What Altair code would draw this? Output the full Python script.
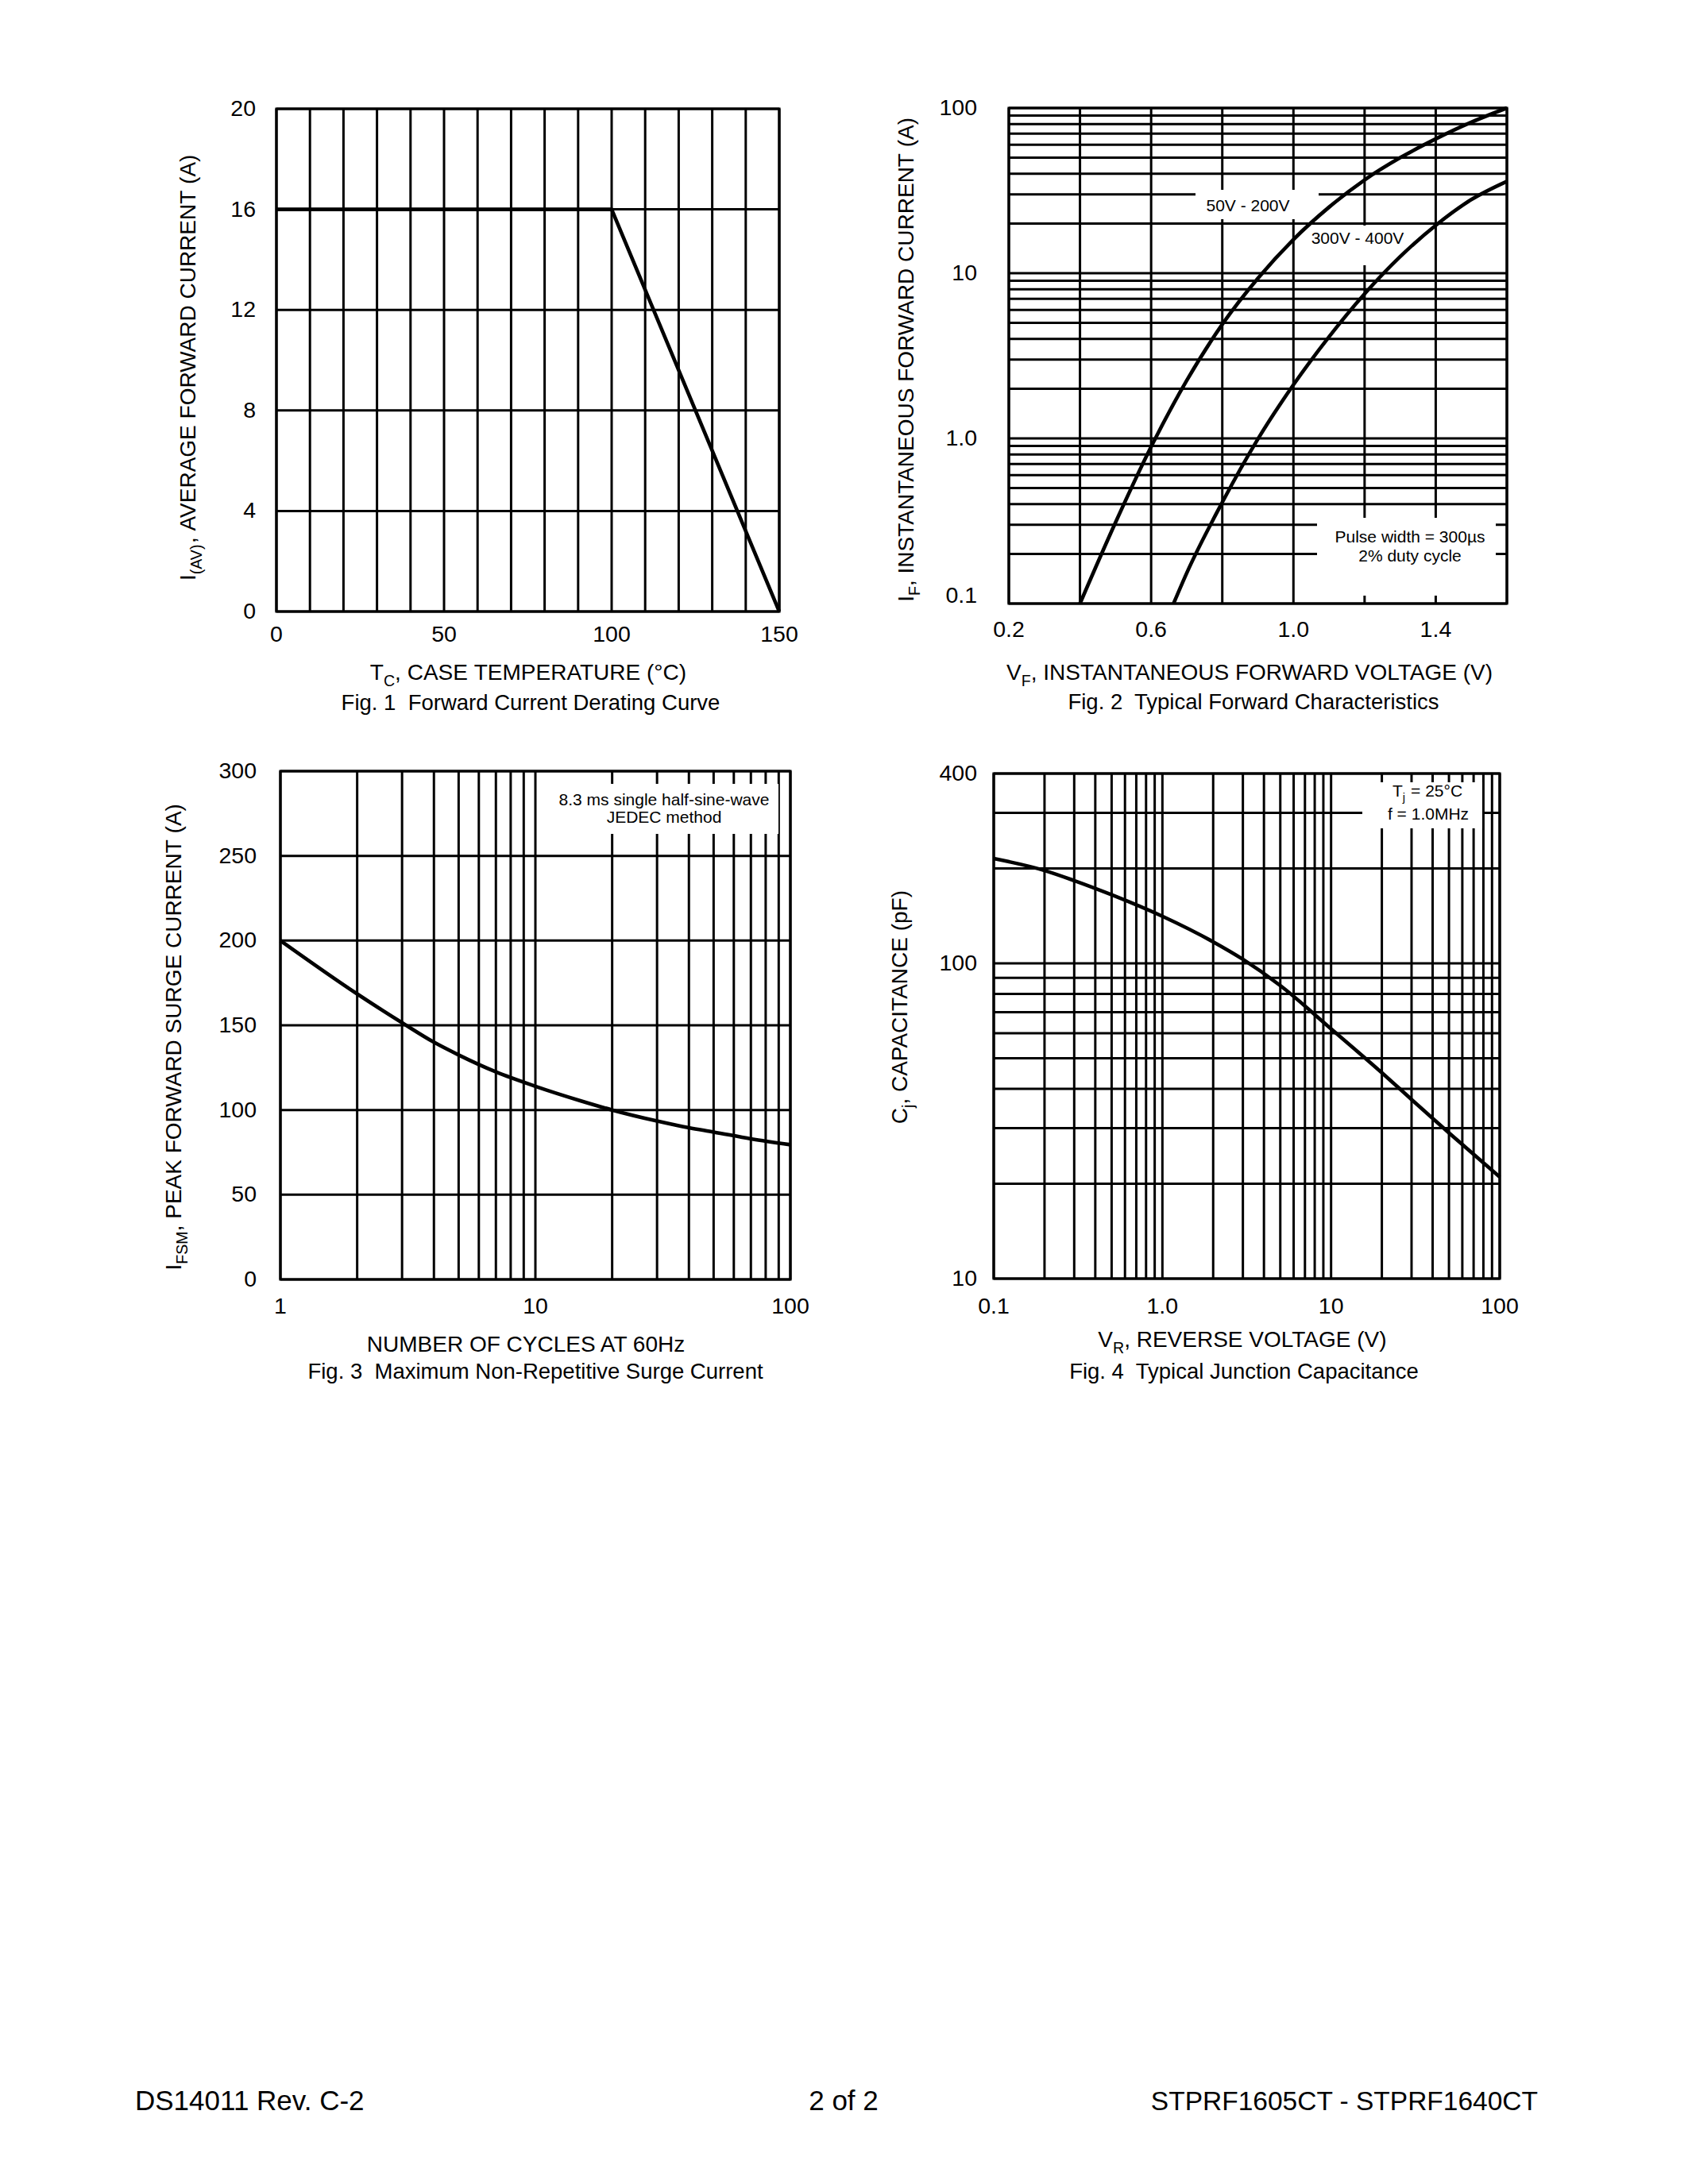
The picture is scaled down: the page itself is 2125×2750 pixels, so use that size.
import altair as alt
import pandas as pd

# ------------------------------------------------------------------ data
# Fig. 1  Forward Current Derating Curve
fig1_case_temp_c = [0, 100, 150]
fig1_avg_current_a = [16, 16, 0]
fig1_x_grid = [0, 10, 20, 30, 40, 50, 60, 70, 80, 90, 100, 110, 120, 130, 140, 150]
fig1_y_grid = [0, 4, 8, 12, 16, 20]
fig1_x_ticks = [0, 50, 100, 150]
fig1_x_tick_labels = ["0", "50", "100", "150"]
fig1_y_ticks = [0, 4, 8, 12, 16, 20]
fig1_y_tick_labels = ["0", "4", "8", "12", "16", "20"]

# Fig. 2  Typical Forward Characteristics
fig2_vf_50_200 = [0.40, 0.50, 0.60, 0.70, 0.80, 0.90, 1.00, 1.10, 1.20, 1.30, 1.40, 1.50, 1.60]
fig2_if_50_200 = [0.1, 0.31, 0.89, 2.24, 4.9, 9.3, 16.0, 25.1, 36.7, 50, 65, 82, 100]
fig2_vf_300_400 = [0.663, 0.70, 0.80, 0.90, 1.00, 1.10, 1.20, 1.30, 1.40, 1.50, 1.60]
fig2_if_300_400 = [0.1, 0.153, 0.41, 0.99, 2.11, 4.12, 7.5, 12.6, 19.5, 27.9, 36]
fig2_x_grid = [0.2, 0.4, 0.6, 0.8, 1.0, 1.2, 1.4, 1.6]
fig2_y_grid = [0.1, 0.2, 0.3, 0.4, 0.5, 0.6, 0.7, 0.8, 0.9,
               1, 2, 3, 4, 5, 6, 7, 8, 9,
               10, 20, 30, 40, 50, 60, 70, 80, 90, 100]
fig2_x_ticks = [0.2, 0.6, 1.0, 1.4]
fig2_x_tick_labels = ["0.2", "0.6", "1.0", "1.4"]
fig2_y_ticks = [1, 10, 100]
fig2_y_tick_labels = ["1.0", "10", "100"]
fig2_y_low_tick = [0.1]
fig2_y_low_tick_label = ["0.1"]

# Fig. 3  Maximum Non-Repetitive Surge Current
fig3_cycles = [1, 2, 3, 4, 5, 7, 10, 15, 20, 30, 40, 50, 70, 100]
fig3_surge_a = [200, 168.5, 151.5, 140, 132.5, 122.5, 114, 105.5, 100, 93.5, 89.5, 87, 83, 79.5]
fig3_x_grid = [1, 2, 3, 4, 5, 6, 7, 8, 9, 10, 20, 30, 40, 50, 60, 70, 80, 90, 100]
fig3_y_grid = [0, 50, 100, 150, 200, 250, 300]
fig3_x_ticks = [1, 10, 100]
fig3_x_tick_labels = ["1", "10", "100"]
fig3_y_ticks = [0, 50, 100, 150, 200, 250, 300]
fig3_y_tick_labels = ["0", "50", "100", "150", "200", "250", "300"]

# Fig. 4  Typical Junction Capacitance
fig4_vr = [0.1, 0.2, 0.3, 0.5, 1.0, 2.0, 3.0, 5.0, 10, 20, 30, 50, 100]
fig4_cap_pf = [215, 197, 183, 165, 141, 117, 103, 85, 62, 45, 37, 29, 21]
fig4_x_grid = [0.1, 0.2, 0.3, 0.4, 0.5, 0.6, 0.7, 0.8, 0.9,
               1, 2, 3, 4, 5, 6, 7, 8, 9,
               10, 20, 30, 40, 50, 60, 70, 80, 90, 100]
fig4_y_grid = [10, 20, 30, 40, 50, 60, 70, 80, 90, 100, 200, 300, 400]
fig4_x_ticks = [0.1, 1, 10, 100]
fig4_x_tick_labels = ["0.1", "1.0", "10", "100"]
fig4_y_ticks = [10, 100, 400]
fig4_y_tick_labels = ["10", "100", "400"]

# ------------------------------------------------------------------ style
FONT = "Liberation Sans"
GRID_W = 3.0
FRAME_W = 3.2
CURVE_W = 4.6
TICK_FS = 28.5
TITLE_FS = 28
CAP_FS = 27.5
NOTE_FS = 21
FOOT_FS = 35
NB = "\u00a0"  # non-collapsing space for SVG text

ONE = pd.DataFrame({"d": [0]})

# Arial / Liberation Sans advance widths (1/1000 em)
AW = {" ": 278, NB: 278, "%": 889, "(": 333, ")": 333, ",": 278, "-": 333, ".": 278,
      "=": 584, "°": 400, "µ": 576}
AW.update({d: 556 for d in "0123456789"})
AW.update(dict(zip("ABCDEFGHIJKLMNOPQRSTUVWXYZ",
                   [667, 667, 722, 722, 667, 611, 778, 722, 278, 500, 667, 556, 833,
                    722, 778, 667, 778, 722, 667, 611, 722, 667, 944, 667, 667, 611])))
AW.update(dict(zip("abcdefghijklmnopqrstuvwxyz",
                   [556, 556, 500, 556, 556, 278, 556, 556, 222, 222, 500, 222, 833,
                    556, 556, 556, 556, 333, 500, 278, 556, 500, 722, 500, 500, 500])))


def tw(s, size):
    return sum(AW.get(c, 556) for c in s) * size / 1000.0


def text_at(s, x, y, size, align="left", angle=0, baseline="alphabetic"):
    kw = dict(text=s, font=FONT, fontSize=size, align=align, baseline=baseline,
              color="black")
    if angle:
        kw["angle"] = angle
    return alt.Chart(ONE).mark_text(**kw).encode(x=alt.value(x), y=alt.value(y))


def rich(parts, cx, cy, size, rotated=False):
    """parts: list of (text, is_subscript) or (None, gap_px).
    cx/cy: centre along the text, and the baseline."""
    sub = size * 0.7
    shift = size * 0.27
    items = []
    for t, s in parts:
        if t is None:
            items.append((None, 0, s))
        else:
            t = t.replace(" ", NB)
            items.append((t, s, tw(t, sub if s else size)))
    pos = -sum(w for _, _, w in items) / 2.0
    out = []
    for t, s, w in items:
        if t is not None:
            fs = sub if s else size
            if rotated:
                out.append(text_at(t, cx + (shift if s else 0), cy - pos, fs, angle=270))
            else:
                out.append(text_at(t, cx + pos, cy + (shift if s else 0), fs))
        pos += w
    return out


def scale(dom, rng, log):
    return alt.Scale(type="log" if log else "linear", domain=dom, range=rng, nice=False)


def white_box(x1, x2, y1, y2):
    return alt.Chart(ONE).mark_rect(color="white").encode(
        x=alt.value(x1), x2=alt.value(x2), y=alt.value(y1), y2=alt.value(y2))


def panel(L, R, T, B, xdom, ydom, xlog, ylog, xgrid, ygrid, boxes, curves,
          xticks, xlabs, xlab_y, yticks, ylabs, ylab_x, extra_ylabels=()):
    xs = scale(xdom, [L, R], xlog)
    ys = scale(ydom, [B, T], ylog)
    layers = []
    layers.append(alt.Chart(pd.DataFrame({"v": xgrid})).mark_rule(
        color="black", strokeWidth=GRID_W).encode(
        x=alt.X("v:Q", scale=xs, axis=None), y=alt.value(T), y2=alt.value(B)))
    layers.append(alt.Chart(pd.DataFrame({"v": ygrid})).mark_rule(
        color="black", strokeWidth=GRID_W).encode(
        y=alt.Y("v:Q", scale=ys, axis=None), x=alt.value(L), x2=alt.value(R)))
    for b in boxes:
        layers.append(white_box(*b))
    layers.append(alt.Chart(ONE).mark_rect(
        filled=False, color="black", strokeWidth=FRAME_W).encode(
        x=alt.value(L), x2=alt.value(R), y=alt.value(T), y2=alt.value(B)))
    for xv, yv in curves:
        layers.append(alt.Chart(pd.DataFrame({"x": xv, "y": yv})).mark_line(
            color="black", strokeWidth=CURVE_W, strokeJoin="round",
            interpolate="monotone" if len(xv) > 3 else "linear").encode(
            x=alt.X("x:Q", scale=xs, axis=None), y=alt.Y("y:Q", scale=ys, axis=None)))
    layers.append(alt.Chart(pd.DataFrame({"v": xticks, "t": xlabs})).mark_text(
        font=FONT, fontSize=TICK_FS, align="center", baseline="alphabetic",
        color="black").encode(
        x=alt.X("v:Q", scale=xs, axis=None), y=alt.value(xlab_y), text="t:N"))
    layers.append(alt.Chart(pd.DataFrame({"v": yticks, "t": ylabs})).mark_text(
        font=FONT, fontSize=TICK_FS, align="right", baseline="middle",
        color="black").encode(
        y=alt.Y("v:Q", scale=ys, axis=None), x=alt.value(ylab_x), text="t:N"))
    for vals, labs, dy in extra_ylabels:
        layers.append(alt.Chart(pd.DataFrame({"v": vals, "t": labs})).mark_text(
            font=FONT, fontSize=TICK_FS, align="right", baseline="middle", dy=dy,
            color="black").encode(
            y=alt.Y("v:Q", scale=ys, axis=None), x=alt.value(ylab_x), text="t:N"))
    return layers


layers = []

# ---------------- Fig. 1
layers += panel(340, 973, 129, 762, [0, 150], [0, 20], False, False,
                fig1_x_grid, fig1_y_grid, [],
                [(fig1_case_temp_c, fig1_avg_current_a)],
                fig1_x_ticks, fig1_x_tick_labels, 800,
                fig1_y_ticks, fig1_y_tick_labels, 314)
layers += rich([("I", 0), ("(AV)", 1), (", AVERAGE FORWARD CURRENT (A)", 0)],
               238, 453, TITLE_FS, rotated=True)
layers += rich([("T", 0), ("C", 1), (", CASE TEMPERATURE (°C)", 0)], 658, 848, TITLE_FS)
layers.append(text_at("Fig. 1" + NB + " Forward Current Derating Curve", 660, 886, CAP_FS,
                      align="center"))

# ---------------- Fig. 2
layers += panel(1262, 1889, 128, 752, [0.2, 1.6], [0.1, 100], False, True,
                fig2_x_grid, fig2_y_grid,
                [(1497, 1652, 231, 268), (1640, 1772, 276, 326), (1650, 1875, 644, 742)],
                [(fig2_vf_50_200, fig2_if_50_200), (fig2_vf_300_400, fig2_if_300_400)],
                fig2_x_ticks, fig2_x_tick_labels, 794,
                fig2_y_ticks, fig2_y_tick_labels, 1222,
                extra_ylabels=[(fig2_y_low_tick, fig2_y_low_tick_label, -10)])
layers.append(text_at("50V - 200V", 1563, 258, NOTE_FS, align="center"))
layers.append(text_at("300V - 400V", 1701, 299, NOTE_FS, align="center"))
layers.append(text_at("Pulse width = 300µs", 1767, 675, NOTE_FS, align="center"))
layers.append(text_at("2% duty cycle", 1767, 699, NOTE_FS, align="center"))
layers += rich([("I", 0), ("F", 1), (", INSTANTANEOUS FORWARD CURRENT (A)", 0)],
               1142, 442, TITLE_FS, rotated=True)
layers += rich([("V", 0), ("F", 1), (", INSTANTANEOUS FORWARD VOLTAGE (V)", 0)],
               1570, 848, TITLE_FS)
layers.append(text_at("Fig. 2" + NB + " Typical Forward Characteristics", 1570, 885, CAP_FS,
                      align="center"))

# ---------------- Fig. 3
layers += panel(345, 987, 963, 1603, [1, 100], [0, 300], True, False,
                fig3_x_grid, fig3_y_grid, [(682, 972, 979, 1042)],
                [(fig3_cycles, fig3_surge_a)],
                fig3_x_ticks, fig3_x_tick_labels, 1646,
                fig3_y_ticks, fig3_y_tick_labels, 315)
layers.append(text_at("8.3 ms single half-sine-wave", 828, 1006, NOTE_FS, align="center"))
layers.append(text_at("JEDEC method", 828, 1028, NOTE_FS, align="center"))
layers += rich([("I", 0), ("FSM", 1), (", PEAK FORWARD SURGE CURRENT (A)", 0)],
               220, 1297, TITLE_FS, rotated=True)
layers.append(text_at("NUMBER OF CYCLES AT 60Hz", 654, 1694, TITLE_FS, align="center"))
layers.append(text_at("Fig. 3" + NB + " Maximum Non-Repetitive Surge Current", 666, 1728,
                      CAP_FS, align="center"))

# ---------------- Fig. 4
layers += panel(1243, 1880, 966, 1602, [0.1, 100], [10, 400], True, True,
                fig4_x_grid, fig4_y_grid, [(1707, 1858, 977, 1035)],
                [(fig4_vr, fig4_cap_pf)],
                fig4_x_ticks, fig4_x_tick_labels, 1646,
                fig4_y_ticks, fig4_y_tick_labels, 1222)
layers += rich([("T", 0), ("j", 1), (None, 7), ("= 25°C", 0)], 1789, 995, NOTE_FS)
layers.append(text_at("f = 1.0MHz", 1790, 1024, NOTE_FS, align="center"))
layers += rich([("C", 0), ("j", 1), (", CAPACITANCE (pF)", 0)],
               1134, 1258, TITLE_FS, rotated=True)
layers += rich([("V", 0), ("R", 1), (", REVERSE VOLTAGE (V)", 0)], 1558, 1688, TITLE_FS)
layers.append(text_at("Fig. 4" + NB + " Typical Junction Capacitance", 1558, 1728, CAP_FS,
                      align="center"))

# ---------------- footer
layers.append(text_at("DS14011 Rev. C-2", 162, 2649, FOOT_FS, align="left"))
layers.append(text_at("2 of 2", 1054, 2649, FOOT_FS, align="center"))
layers.append(text_at("STPRF1605CT - STPRF1640CT", 1928, 2649, 33.5, align="right"))

chart = alt.layer(*layers).resolve_scale(
    x="independent", y="independent"
).properties(
    width=2109, height=2734, padding=0,
    autosize=alt.AutoSizeParams(type="none"),
).configure_view(stroke=None)

chart.save("out.html", embed_options={"renderer": "svg", "actions": False})
